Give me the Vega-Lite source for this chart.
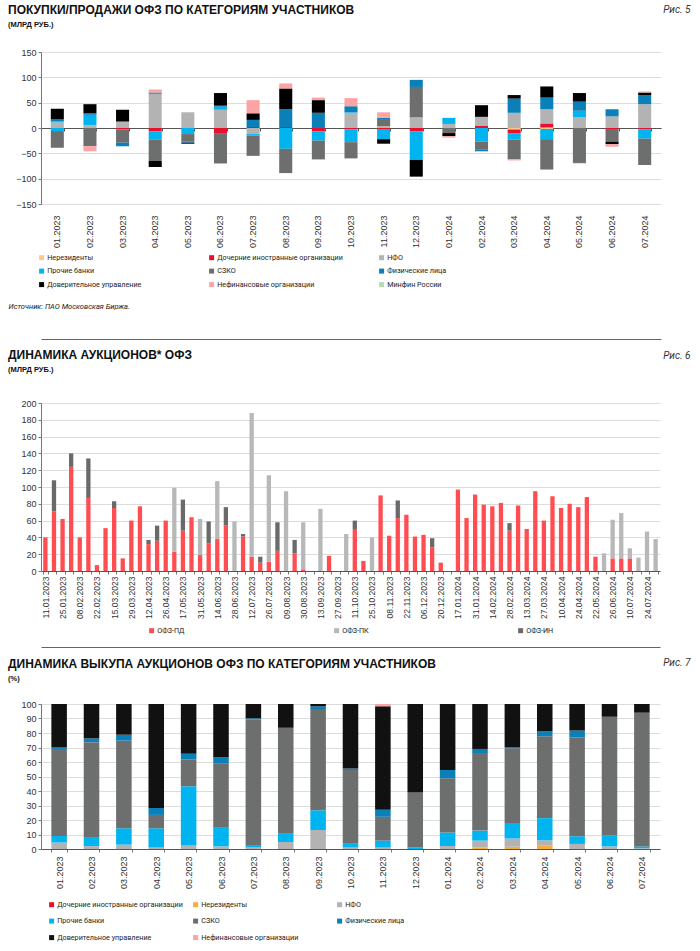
{
"$schema": "https://vega.github.io/schema/vega-lite/v6.json",
"background": "white",
"padding": {"left": 8, "top": 3, "right": 6, "bottom": 4},
"spacing": 10,
"config": {
  "font": "Liberation Sans",
  "view": {"stroke": null},
  "axis": {"labelFont": "Liberation Sans", "labelFontSize": 8.5, "labelColor": "#333333", "gridColor": "#dcdcdc", "gridWidth": 1, "domainColor": "#777777", "tickColor": "#777777", "tickSize": 3, "labelPadding": 2, "titleFont": "Roboto"},
  "legend": {"labelFont": "Roboto", "labelFontSize": 7.2, "labelColor": "#222222", "symbolType": "square", "symbolSize": 25, "symbolStrokeWidth": 0, "labelOffset": 2},
  "title": {"anchor": "start", "frame": "group", "font": "Liberation Sans", "fontSize": 12, "fontWeight": "bold", "color": "#111111", "subtitleFont": "Liberation Sans", "subtitleFontSize": 7.5, "subtitleFontWeight": "bold", "subtitleColor": "#111111", "subtitlePadding": 4}
},
"resolve": {"scale": {"color": "independent"}, "legend": {"color": "independent"}},
"datasets": {
"r1": [{"c":"Нерезиденты","o":1},{"c":"Дочерние иностранные организации","o":2},{"c":"НФО","o":3},{"c":"Прочие банки","o":4},{"c":"СЗКО","o":5},{"c":"Физические лица","o":6},{"c":"Доверительное управление","o":7},{"c":"Нефинансовые организации","o":8},{"c":"Минфин России","o":9}],
"r2": [{"s":"ОФЗ-ПД","o":1},{"s":"ОФЗ-ПК","o":2},{"s":"ОФЗ-ИН","o":3}],
"r3": [{"c":"Дочерние иностранные организации","o":1},{"c":"Нерезиденты","o":2},{"c":"НФО","o":3},{"c":"Прочие банки","o":4},{"c":"СЗКО","o":5},{"c":"Физические лица","o":6},{"c":"Доверительное управление","o":7},{"c":"Нефинансовые организации","o":8}],
"p1": [
{"m":"01.2023","c":"НФО","v":11},{"m":"01.2023","c":"Прочие банки","v":2},{"m":"01.2023","c":"Физические лица","v":4},{"m":"01.2023","c":"Доверительное управление","v":21},{"m":"01.2023","c":"Прочие банки","v":-6},{"m":"01.2023","c":"СЗКО","v":-33},
{"m":"02.2023","c":"НФО","v":6},{"m":"02.2023","c":"Прочие банки","v":20},{"m":"02.2023","c":"Физические лица","v":3},{"m":"02.2023","c":"Доверительное управление","v":18},{"m":"02.2023","c":"СЗКО","v":-36},{"m":"02.2023","c":"Нефинансовые организации","v":-10},
{"m":"03.2023","c":"НФО","v":12},{"m":"03.2023","c":"Физические лица","v":2},{"m":"03.2023","c":"Доверительное управление","v":22},{"m":"03.2023","c":"Дочерние иностранные организации","v":-3},{"m":"03.2023","c":"СЗКО","v":-26},{"m":"03.2023","c":"Физические лица","v":-7},
{"m":"04.2023","c":"НФО","v":67},{"m":"04.2023","c":"Прочие банки","v":2},{"m":"04.2023","c":"Физические лица","v":1},{"m":"04.2023","c":"Нефинансовые организации","v":6},{"m":"04.2023","c":"Дочерние иностранные организации","v":-7},{"m":"04.2023","c":"Прочие банки","v":-16},{"m":"04.2023","c":"СЗКО","v":-42},{"m":"04.2023","c":"Доверительное управление","v":-12},
{"m":"05.2023","c":"НФО","v":31},{"m":"05.2023","c":"Прочие банки","v":-12},{"m":"05.2023","c":"СЗКО","v":-15},{"m":"05.2023","c":"Физические лица","v":-2},{"m":"05.2023","c":"Доверительное управление","v":-2},
{"m":"06.2023","c":"НФО","v":36},{"m":"06.2023","c":"Прочие банки","v":6},{"m":"06.2023","c":"Физические лица","v":2},{"m":"06.2023","c":"Доверительное управление","v":25},{"m":"06.2023","c":"Дочерние иностранные организации","v":-10},{"m":"06.2023","c":"СЗКО","v":-60},
{"m":"07.2023","c":"Дочерние иностранные организации","v":2},{"m":"07.2023","c":"Физические лица","v":14},{"m":"07.2023","c":"Доверительное управление","v":13},{"m":"07.2023","c":"Нефинансовые организации","v":26},{"m":"07.2023","c":"НФО","v":-12},{"m":"07.2023","c":"Прочие банки","v":-3},{"m":"07.2023","c":"СЗКО","v":-40},
{"m":"08.2023","c":"Дочерние иностранные организации","v":2},{"m":"08.2023","c":"Физические лица","v":35},{"m":"08.2023","c":"Доверительное управление","v":41},{"m":"08.2023","c":"Нефинансовые организации","v":10},{"m":"08.2023","c":"Прочие банки","v":-41},{"m":"08.2023","c":"СЗКО","v":-48},
{"m":"09.2023","c":"Физические лица","v":30},{"m":"09.2023","c":"Доверительное управление","v":25},{"m":"09.2023","c":"Нефинансовые организации","v":5},{"m":"09.2023","c":"Дочерние иностранные организации","v":-7},{"m":"09.2023","c":"Прочие банки","v":-18},{"m":"09.2023","c":"СЗКО","v":-37},
{"m":"10.2023","c":"НФО","v":30},{"m":"10.2023","c":"Прочие банки","v":1},{"m":"10.2023","c":"Физические лица","v":12},{"m":"10.2023","c":"Нефинансовые организации","v":16},{"m":"10.2023","c":"Дочерние иностранные организации","v":-3},{"m":"10.2023","c":"Прочие банки","v":-25},{"m":"10.2023","c":"СЗКО","v":-32},
{"m":"11.2023","c":"НФО","v":4},{"m":"11.2023","c":"СЗКО","v":12},{"m":"11.2023","c":"Физические лица","v":4},{"m":"11.2023","c":"Нефинансовые организации","v":11},{"m":"11.2023","c":"Дочерние иностранные организации","v":-2},{"m":"11.2023","c":"Прочие банки","v":-20},{"m":"11.2023","c":"Доверительное управление","v":-9},
{"m":"12.2023","c":"НФО","v":21},{"m":"12.2023","c":"СЗКО","v":60},{"m":"12.2023","c":"Физические лица","v":14},{"m":"12.2023","c":"Дочерние иностранные организации","v":-7},{"m":"12.2023","c":"Прочие банки","v":-56},{"m":"12.2023","c":"Доверительное управление","v":-33},
{"m":"01.2024","c":"НФО","v":8},{"m":"01.2024","c":"Прочие банки","v":12},{"m":"01.2024","c":"СЗКО","v":-10},{"m":"01.2024","c":"Доверительное управление","v":-6},{"m":"01.2024","c":"Нефинансовые организации","v":-3},
{"m":"02.2024","c":"Дочерние иностранные организации","v":4},{"m":"02.2024","c":"НФО","v":18},{"m":"02.2024","c":"Доверительное управление","v":23},{"m":"02.2024","c":"Прочие банки","v":-27},{"m":"02.2024","c":"СЗКО","v":-15},{"m":"02.2024","c":"Физические лица","v":-4},
{"m":"03.2024","c":"НФО","v":30},{"m":"03.2024","c":"Физические лица","v":28},{"m":"03.2024","c":"Доверительное управление","v":7},{"m":"03.2024","c":"Нерезиденты","v":-3},{"m":"03.2024","c":"Дочерние иностранные организации","v":-8},{"m":"03.2024","c":"Прочие банки","v":-12},{"m":"03.2024","c":"СЗКО","v":-39},{"m":"03.2024","c":"Нефинансовые организации","v":-2},
{"m":"04.2024","c":"Нерезиденты","v":1},{"m":"04.2024","c":"Дочерние иностранные организации","v":8},{"m":"04.2024","c":"НФО","v":28},{"m":"04.2024","c":"Физические лица","v":23},{"m":"04.2024","c":"Доверительное управление","v":22},{"m":"04.2024","c":"Нерезиденты","v":-2},{"m":"04.2024","c":"Прочие банки","v":-20},{"m":"04.2024","c":"СЗКО","v":-60},
{"m":"05.2024","c":"НФО","v":21},{"m":"05.2024","c":"Прочие банки","v":13},{"m":"05.2024","c":"Физические лица","v":18},{"m":"05.2024","c":"Доверительное управление","v":17},{"m":"05.2024","c":"СЗКО","v":-69},{"m":"05.2024","c":"Нефинансовые организации","v":-1},
{"m":"06.2024","c":"НФО","v":23},{"m":"06.2024","c":"Физические лица","v":14},{"m":"06.2024","c":"Дочерние иностранные организации","v":-2},{"m":"06.2024","c":"СЗКО","v":-25},{"m":"06.2024","c":"Доверительное управление","v":-5},{"m":"06.2024","c":"Нефинансовые организации","v":-5},
{"m":"07.2024","c":"НФО","v":47},{"m":"07.2024","c":"Физические лица","v":18},{"m":"07.2024","c":"Доверительное управление","v":5},{"m":"07.2024","c":"Нефинансовые организации","v":2},{"m":"07.2024","c":"Дочерние иностранные организации","v":-3},{"m":"07.2024","c":"Прочие банки","v":-18},{"m":"07.2024","c":"СЗКО","v":-52}
],
"p2": [
{"d":"11.01.2023","s":"ОФЗ-ПД","v":40},
{"d":"18.01.2023","s":"ОФЗ-ПД","v":71},{"d":"18.01.2023","s":"ОФЗ-ИН","v":37},
{"d":"25.01.2023","s":"ОФЗ-ПД","v":62},
{"d":"01.02.2023","s":"ОФЗ-ПД","v":124},{"d":"01.02.2023","s":"ОФЗ-ИН","v":16},
{"d":"08.02.2023","s":"ОФЗ-ПД","v":40},
{"d":"15.02.2023","s":"ОФЗ-ПД","v":87},{"d":"15.02.2023","s":"ОФЗ-ИН","v":47},
{"d":"22.02.2023","s":"ОФЗ-ПД","v":7},
{"d":"01.03.2023","s":"ОФЗ-ПД","v":51},
{"d":"15.03.2023","s":"ОФЗ-ПД","v":75},{"d":"15.03.2023","s":"ОФЗ-ИН","v":8},
{"d":"22.03.2023","s":"ОФЗ-ПД","v":15},
{"d":"29.03.2023","s":"ОФЗ-ПД","v":60},
{"d":"05.04.2023","s":"ОФЗ-ПД","v":77},
{"d":"12.04.2023","s":"ОФЗ-ПД","v":32},{"d":"12.04.2023","s":"ОФЗ-ИН","v":5},
{"d":"19.04.2023","s":"ОФЗ-ПД","v":36},{"d":"19.04.2023","s":"ОФЗ-ИН","v":18},
{"d":"26.04.2023","s":"ОФЗ-ПД","v":60},
{"d":"10.05.2023","s":"ОФЗ-ПД","v":23},{"d":"10.05.2023","s":"ОФЗ-ПК","v":76},
{"d":"17.05.2023","s":"ОФЗ-ПД","v":48},{"d":"17.05.2023","s":"ОФЗ-ИН","v":37},
{"d":"24.05.2023","s":"ОФЗ-ПД","v":64},
{"d":"31.05.2023","s":"ОФЗ-ПД","v":19},{"d":"31.05.2023","s":"ОФЗ-ПК","v":43},
{"d":"07.06.2023","s":"ОФЗ-ПД","v":33},{"d":"07.06.2023","s":"ОФЗ-ИН","v":26},
{"d":"14.06.2023","s":"ОФЗ-ПД","v":38},{"d":"14.06.2023","s":"ОФЗ-ПК","v":69},
{"d":"21.06.2023","s":"ОФЗ-ПД","v":54},{"d":"21.06.2023","s":"ОФЗ-ИН","v":22},
{"d":"28.06.2023","s":"ОФЗ-ПК","v":59},
{"d":"05.07.2023","s":"ОФЗ-ПД","v":41},{"d":"05.07.2023","s":"ОФЗ-ИН","v":3},
{"d":"12.07.2023","s":"ОФЗ-ПД","v":17},{"d":"12.07.2023","s":"ОФЗ-ПК","v":171},
{"d":"19.07.2023","s":"ОФЗ-ПД","v":10},{"d":"19.07.2023","s":"ОФЗ-ИН","v":7},
{"d":"26.07.2023","s":"ОФЗ-ПД","v":11},{"d":"26.07.2023","s":"ОФЗ-ПК","v":103},
{"d":"02.08.2023","s":"ОФЗ-ПД","v":24},{"d":"02.08.2023","s":"ОФЗ-ИН","v":34},
{"d":"09.08.2023","s":"ОФЗ-ПК","v":95},
{"d":"23.08.2023","s":"ОФЗ-ПД","v":21},{"d":"23.08.2023","s":"ОФЗ-ИН","v":16},
{"d":"30.08.2023","s":"ОФЗ-ПД","v":2},{"d":"30.08.2023","s":"ОФЗ-ПК","v":56},
{"d":"06.09.2023","s":"ОФЗ-ПД","v":0},
{"d":"13.09.2023","s":"ОФЗ-ПК","v":74},
{"d":"20.09.2023","s":"ОФЗ-ПД","v":18},
{"d":"27.09.2023","s":"ОФЗ-ПД","v":0},
{"d":"04.10.2023","s":"ОФЗ-ПК","v":44},
{"d":"11.10.2023","s":"ОФЗ-ПД","v":50},{"d":"11.10.2023","s":"ОФЗ-ИН","v":10},
{"d":"18.10.2023","s":"ОФЗ-ПД","v":12},
{"d":"25.10.2023","s":"ОФЗ-ПК","v":40},
{"d":"01.11.2023","s":"ОФЗ-ПД","v":90},
{"d":"08.11.2023","s":"ОФЗ-ПД","v":42},
{"d":"15.11.2023","s":"ОФЗ-ПД","v":63},{"d":"15.11.2023","s":"ОФЗ-ИН","v":21},
{"d":"22.11.2023","s":"ОФЗ-ПД","v":67},
{"d":"29.11.2023","s":"ОФЗ-ПД","v":41},
{"d":"06.12.2023","s":"ОФЗ-ПД","v":43},
{"d":"13.12.2023","s":"ОФЗ-ПД","v":28},{"d":"13.12.2023","s":"ОФЗ-ИН","v":11},
{"d":"20.12.2023","s":"ОФЗ-ПД","v":10},
{"d":"10.01.2024","s":"ОФЗ-ПД","v":0},
{"d":"17.01.2024","s":"ОФЗ-ПД","v":97},
{"d":"24.01.2024","s":"ОФЗ-ПД","v":63},
{"d":"31.01.2024","s":"ОФЗ-ПД","v":91},
{"d":"07.02.2024","s":"ОФЗ-ПД","v":79},
{"d":"14.02.2024","s":"ОФЗ-ПД","v":77},
{"d":"21.02.2024","s":"ОФЗ-ПД","v":81},
{"d":"28.02.2024","s":"ОФЗ-ПД","v":48},{"d":"28.02.2024","s":"ОФЗ-ИН","v":9},
{"d":"06.03.2024","s":"ОФЗ-ПД","v":78},
{"d":"13.03.2024","s":"ОФЗ-ПД","v":50},
{"d":"20.03.2024","s":"ОФЗ-ПД","v":95},
{"d":"27.03.2024","s":"ОФЗ-ПД","v":60},
{"d":"03.04.2024","s":"ОФЗ-ПД","v":89},
{"d":"10.04.2024","s":"ОФЗ-ПД","v":75},
{"d":"17.04.2024","s":"ОФЗ-ПД","v":80},
{"d":"24.04.2024","s":"ОФЗ-ПД","v":76},
{"d":"15.05.2024","s":"ОФЗ-ПД","v":88},
{"d":"22.05.2024","s":"ОФЗ-ПД","v":17},
{"d":"05.06.2024","s":"ОФЗ-ПК","v":21},
{"d":"26.06.2024","s":"ОФЗ-ПД","v":15},{"d":"26.06.2024","s":"ОФЗ-ПК","v":46},
{"d":"03.07.2024","s":"ОФЗ-ПД","v":15},{"d":"03.07.2024","s":"ОФЗ-ПК","v":54},
{"d":"10.07.2024","s":"ОФЗ-ПД","v":15},{"d":"10.07.2024","s":"ОФЗ-ПК","v":12},
{"d":"17.07.2024","s":"ОФЗ-ПК","v":16},
{"d":"24.07.2024","s":"ОФЗ-ПК","v":47},
{"d":"31.07.2024","s":"ОФЗ-ПК","v":38}
],
"p3": [
{"m":"01.2023","c":"НФО","v":4.5},{"m":"01.2023","c":"Прочие банки","v":4.5},{"m":"01.2023","c":"СЗКО","v":60},{"m":"01.2023","c":"Физические лица","v":1},{"m":"01.2023","c":"Доверительное управление","v":30},
{"m":"02.2023","c":"НФО","v":2},{"m":"02.2023","c":"Прочие банки","v":6.3},{"m":"02.2023","c":"СЗКО","v":65.4},{"m":"02.2023","c":"Физические лица","v":2.6},{"m":"02.2023","c":"Доверительное управление","v":23.7},
{"m":"03.2023","c":"НФО","v":3},{"m":"03.2023","c":"Прочие банки","v":11.3},{"m":"03.2023","c":"СЗКО","v":60.4},{"m":"03.2023","c":"Физические лица","v":4.1},{"m":"03.2023","c":"Доверительное управление","v":21.2},
{"m":"04.2023","c":"НФО","v":1},{"m":"04.2023","c":"Прочие банки","v":13.3},{"m":"04.2023","c":"СЗКО","v":9.2},{"m":"04.2023","c":"Физические лица","v":4.8},{"m":"04.2023","c":"Доверительное управление","v":71.7},
{"m":"05.2023","c":"НФО","v":2.5},{"m":"05.2023","c":"Прочие банки","v":40.8},{"m":"05.2023","c":"СЗКО","v":18.5},{"m":"05.2023","c":"Физические лица","v":3.9},{"m":"05.2023","c":"Доверительное управление","v":34.3},
{"m":"06.2023","c":"НФО","v":1.8},{"m":"06.2023","c":"Прочие банки","v":12.9},{"m":"06.2023","c":"СЗКО","v":44.1},{"m":"06.2023","c":"Физические лица","v":4.6},{"m":"06.2023","c":"Доверительное управление","v":36.6},
{"m":"07.2023","c":"НФО","v":1},{"m":"07.2023","c":"Прочие банки","v":1.3},{"m":"07.2023","c":"СЗКО","v":86.9},{"m":"07.2023","c":"Физические лица","v":0.9},{"m":"07.2023","c":"Доверительное управление","v":9.9},
{"m":"08.2023","c":"НФО","v":4.8},{"m":"08.2023","c":"Прочие банки","v":6.2},{"m":"08.2023","c":"СЗКО","v":72.6},{"m":"08.2023","c":"Доверительное управление","v":16.4},
{"m":"09.2023","c":"НФО","v":13.1},{"m":"09.2023","c":"Прочие банки","v":13.6},{"m":"09.2023","c":"СЗКО","v":69.2},{"m":"09.2023","c":"Физические лица","v":2.5},{"m":"09.2023","c":"Доверительное управление","v":1.6},
{"m":"10.2023","c":"НФО","v":1},{"m":"10.2023","c":"Прочие банки","v":2.7},{"m":"10.2023","c":"СЗКО","v":50.7},{"m":"10.2023","c":"Физические лица","v":1.2},{"m":"10.2023","c":"Доверительное управление","v":44.4},
{"m":"11.2023","c":"НФО","v":1},{"m":"11.2023","c":"Прочие банки","v":4.8},{"m":"11.2023","c":"СЗКО","v":16.4},{"m":"11.2023","c":"Физические лица","v":4.8},{"m":"11.2023","c":"Доверительное управление","v":71.4},{"m":"11.2023","c":"Нефинансовые организации","v":1.6},
{"m":"12.2023","c":"Прочие банки","v":1.2},{"m":"12.2023","c":"СЗКО","v":37.7},{"m":"12.2023","c":"Доверительное управление","v":61.1},
{"m":"01.2024","c":"НФО","v":2},{"m":"01.2024","c":"Прочие банки","v":9.3},{"m":"01.2024","c":"СЗКО","v":37.5},{"m":"01.2024","c":"Физические лица","v":5.6},{"m":"01.2024","c":"Доверительное управление","v":45.6},
{"m":"02.2024","c":"Нерезиденты","v":1},{"m":"02.2024","c":"НФО","v":4.8},{"m":"02.2024","c":"Прочие банки","v":6.9},{"m":"02.2024","c":"СЗКО","v":53.5},{"m":"02.2024","c":"Физические лица","v":2.8},{"m":"02.2024","c":"Доверительное управление","v":31},
{"m":"03.2024","c":"Нерезиденты","v":1.6},{"m":"03.2024","c":"НФО","v":5.6},{"m":"03.2024","c":"Прочие банки","v":10.8},{"m":"03.2024","c":"СЗКО","v":51.4},{"m":"03.2024","c":"Физические лица","v":1},{"m":"03.2024","c":"Доверительное управление","v":29.6},
{"m":"04.2024","c":"Нерезиденты","v":2.3},{"m":"04.2024","c":"НФО","v":3.7},{"m":"04.2024","c":"Прочие банки","v":15.3},{"m":"04.2024","c":"СЗКО","v":56.5},{"m":"04.2024","c":"Физические лица","v":3.5},{"m":"04.2024","c":"Доверительное управление","v":18.7},
{"m":"05.2024","c":"НФО","v":3.5},{"m":"05.2024","c":"Прочие банки","v":5.3},{"m":"05.2024","c":"СЗКО","v":68.1},{"m":"05.2024","c":"Физические лица","v":4.8},{"m":"05.2024","c":"Доверительное управление","v":18.3},
{"m":"06.2024","c":"НФО","v":1.8},{"m":"06.2024","c":"Прочие банки","v":7.7},{"m":"06.2024","c":"СЗКО","v":81.7},{"m":"06.2024","c":"Доверительное управление","v":8.8},
{"m":"07.2024","c":"НФО","v":0.5},{"m":"07.2024","c":"Прочие банки","v":1.3},{"m":"07.2024","c":"СЗКО","v":92.2},{"m":"07.2024","c":"Доверительное управление","v":6}
]
},
"vconcat": [
{
  "title": {"text": "ПОКУПКИ/ПРОДАЖИ ОФЗ ПО КАТЕГОРИЯМ УЧАСТНИКОВ", "subtitle": "(МЛРД РУБ.)", "offset": -25, "dx": -33},
  "width": 620, "height": 152,
  "data": {"name": "p1"},
  "resolve": {"axis": {"x": "independent", "y": "independent"}},
  "layer": [
    {"transform": [{"lookup": "c", "from": {"data": {"name": "r1"}, "key": "c", "fields": ["o"]}}],
     "mark": {"type": "bar"},
     "encoding": {
       "x": {"field": "m", "type": "ordinal", "sort": null, "scale": {"paddingInner": 0.6, "paddingOuter": 0.3},
             "axis": {"orient": "bottom", "title": null, "labelAngle": 270, "domain": false, "ticks": false, "grid": false, "labelPadding": 11, "labelFontSize": 9, "labelOverlap": false}},
       "y": {"field": "v", "type": "quantitative", "scale": {"domain": [-150, 150], "nice": false},
             "axis": {"values": [-150, -100, -50, 0, 50, 100, 150], "grid": true, "labelFontSize": 9,
                      "title": "Рис. 5", "titleAngle": 0, "titleX": 649, "titleY": -43, "titleAlign": "right", "titleBaseline": "middle", "titleFontStyle": "italic", "titleFontWeight": "normal", "titleFontSize": 10, "titleColor": "#333333"}},
       "color": {"field": "c", "type": "nominal",
                 "scale": {"domain": ["Нерезиденты","Дочерние иностранные организации","НФО","Прочие банки","СЗКО","Физические лица","Доверительное управление","Нефинансовые организации","Минфин России"],
                           "range": ["#fdc98b","#e8112d","#b3b3b3","#00b4ef","#6d6e6e","#0a7fb8","#000000","#fca3a3","#b8d9b0"]},
                 "legend": {"title": null, "orient": "none", "legendX": -3, "legendY": 202, "columns": 3, "columnPadding": 35, "rowPadding": 5.5, "gridAlign": "all", "direction": "horizontal"}},
       "order": {"field": "o", "type": "quantitative"}
     }},
    {"mark": {"type": "tick", "opacity": 0},
     "encoding": {
       "x": {"field": "m", "type": "ordinal", "sort": null,
             "axis": {"orient": "top", "offset": -76, "labels": false, "domain": true, "domainColor": "#555555", "ticks": true, "tickBand": "extent", "tickSize": -3, "tickColor": "#555555", "grid": false, "title": null}},
       "y": {"datum": 0, "type": "quantitative", "axis": null}
     }},
    {"mark": {"type": "tick", "opacity": 0},
     "encoding": {
       "x": {"field": "m", "type": "ordinal", "sort": null,
             "axis": {"orient": "bottom", "offset": 135, "labels": false, "ticks": false, "grid": false, "domain": true, "domainColor": "#e0301e", "domainWidth": 1,
                      "title": "Источник: ПАО Московская Биржа.", "titleX": -33, "titleY": -33, "titleAlign": "left", "titleAngle": 0, "titleBaseline": "middle", "titleFontStyle": "italic", "titleFontWeight": "normal", "titleFontSize": 7.5, "titleColor": "#222222", "titleFont": "Roboto"}},
       "y": {"datum": 0, "type": "quantitative", "axis": null}
     }}
  ]
},
{
  "title": {"text": "ДИНАМИКА АУКЦИОНОВ* ОФЗ", "subtitle": "(МЛРД РУБ.)", "offset": -24.5, "dx": -33},
  "width": 619, "height": 168,
  "data": {"name": "p2"},
  "resolve": {"axis": {"x": "independent", "y": "independent"}},
  "layer": [
    {"transform": [{"lookup": "s", "from": {"data": {"name": "r2"}, "key": "s", "fields": ["o"]}}],
     "mark": {"type": "bar"},
     "encoding": {
       "x": {"field": "d", "type": "ordinal", "sort": null, "scale": {"paddingInner": 0.5, "paddingOuter": 0.26},
             "axis": {"orient": "bottom", "title": null, "labelAngle": 270, "labelFontSize": 8.5, "labelOverlap": false, "grid": false, "domain": true, "domainColor": "#555555", "ticks": true, "tickBand": "extent", "tickSize": 3, "labelPadding": 2,
                      "labelExpr": "indexof(['11.01.2023','25.01.2023','08.02.2023','22.02.2023','15.03.2023','29.03.2023','12.04.2023','26.04.2023','17.05.2023','31.05.2023','14.06.2023','28.06.2023','12.07.2023','26.07.2023','09.08.2023','30.08.2023','13.09.2023','27.09.2023','11.10.2023','25.10.2023','08.11.2023','22.11.2023','06.12.2023','20.12.2023','17.01.2024','31.01.2024','14.02.2024','28.02.2024','13.03.2024','27.03.2024','10.04.2024','24.04.2024','22.05.2024','26.06.2024','10.07.2024','24.07.2024'], datum.value) >= 0 ? datum.value : ''"}},
       "y": {"field": "v", "type": "quantitative", "scale": {"domain": [0, 200], "nice": false},
             "axis": {"values": [0,20,40,60,80,100,120,140,160,180,200], "grid": true, "labelFontSize": 9,
                      "title": "Рис. 6", "titleAngle": 0, "titleX": 649, "titleY": -48, "titleAlign": "right", "titleBaseline": "middle", "titleFontStyle": "italic", "titleFontWeight": "normal", "titleFontSize": 10, "titleColor": "#333333"}},
       "color": {"field": "s", "type": "nominal",
                 "scale": {"domain": ["ОФЗ-ПД","ОФЗ-ПК","ОФЗ-ИН"], "range": ["#ff4d52","#b8b8b8","#6a6a6a"]},
                 "legend": {"title": null, "orient": "none", "legendX": 107, "legendY": 224, "columns": 3, "columnPadding": 148, "direction": "horizontal"}},
       "order": {"field": "o", "type": "quantitative"}
     }},
    {"mark": {"type": "tick", "opacity": 0},
     "encoding": {
       "x": {"field": "d", "type": "ordinal", "sort": null,
             "axis": {"orient": "bottom", "offset": 76, "labels": false, "ticks": false, "grid": false, "domain": true, "domainColor": "#e0301e", "domainWidth": 1, "title": null}},
       "y": {"datum": 0, "type": "quantitative", "axis": null}
     }}
  ]
},
{
  "title": {"text": "ДИНАМИКА ВЫКУПА АУКЦИОНОВ ОФЗ ПО КАТЕГОРИЯМ УЧАСТНИКОВ", "subtitle": "(%)", "offset": -26, "dx": -33},
  "width": 619, "height": 145,
  "data": {"name": "p3"},
  "transform": [{"lookup": "c", "from": {"data": {"name": "r3"}, "key": "c", "fields": ["o"]}}],
  "mark": {"type": "bar"},
  "encoding": {
    "x": {"field": "m", "type": "ordinal", "sort": null, "scale": {"paddingInner": 0.52, "paddingOuter": 0.32},
          "axis": {"title": null, "labelAngle": 270, "labelFontSize": 9, "labelOverlap": false, "grid": false, "domain": true, "domainColor": "#555555", "ticks": true, "tickBand": "extent", "tickSize": 3, "labelPadding": 4}},
    "y": {"field": "v", "type": "quantitative", "stack": "normalize", "scale": {"domain": [0, 1], "nice": false},
          "axis": {"values": [0,0.1,0.2,0.3,0.4,0.5,0.6,0.7,0.8,0.9,1], "labelExpr": "format(datum.value*100, 'd')", "grid": true, "labelFontSize": 9,
                   "title": "Рис. 7", "titleAngle": 0, "titleX": 649, "titleY": -42, "titleAlign": "right", "titleBaseline": "middle", "titleFontStyle": "italic", "titleFontWeight": "normal", "titleFontSize": 10, "titleColor": "#333333"}},
    "color": {"field": "c", "type": "nominal",
              "scale": {"domain": ["Дочерние иностранные организации","Нерезиденты","НФО","Прочие банки","СЗКО","Физические лица","Доверительное управление","Нефинансовые организации"],
                        "range": ["#e8112d","#f7ac3c","#b3b3b3","#00b4ef","#6d6e6e","#0a7fb8","#111111","#fca3a3"]},
              "legend": {"title": null, "orient": "none", "legendX": 7, "legendY": 197, "columns": 3, "columnPadding": 9, "rowPadding": 8.5, "gridAlign": "all", "direction": "horizontal"}},
    "order": {"field": "o", "type": "quantitative"}
  }
}
]
}
